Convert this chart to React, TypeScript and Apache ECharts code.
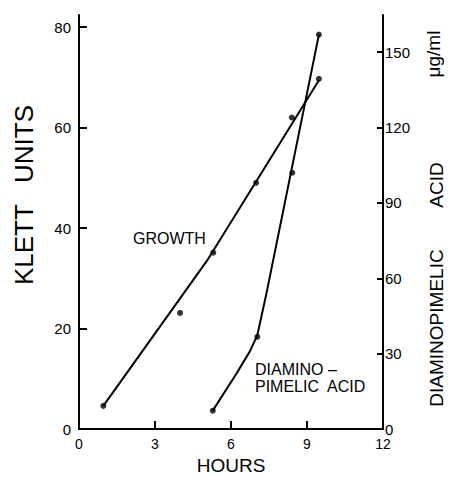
import React, { useEffect, useRef } from "react";
import * as echarts from "echarts";

// Hours (x) tick labels
const hourTicks = [0, 3, 6, 9, 12];
// Left axis (Klett units) tick labels
const klettTicks = [0, 20, 40, 60, 80];
// Right axis (µg/ml) tick labels
const dapTicks = [0, 30, 60, 90, 120, 150];

// Growth: measured points [hours, Klett units]
const growthPoints = [
  [0.96, 4.6],
  [3.99, 23.1],
  [5.3, 35.1],
  [6.99, 49.0],
  [8.4, 62.0],
  [9.47, 69.7],
];
// Growth: drawn curve [hours, Klett units]
const growthCurve = [
  [0.96, 4.6],
  [5.04, 33.4],
  [7.0, 49.3],
  [9.47, 69.4],
];

// Diaminopimelic acid: measured points [hours, µg/ml]
const dapPoints = [
  [5.28, 7.3],
  [7.04, 36.7],
  [8.42, 102],
  [9.47, 157],
];
// Diaminopimelic acid: drawn curve [hours, µg/ml]
const dapCurve = [
  [5.28, 7.3],
  [6.2, 21.8],
  [6.75, 31],
  [7.04, 37.4],
  [7.4, 54],
  [9.47, 157],
];

const FONT = "Liberation Sans, Arial, Helvetica, sans-serif";

export default function App() {
  const ref = useRef<HTMLDivElement>(null);

  useEffect(() => {
    if (!ref.current) return;
    const chart = echarts.init(ref.current, undefined, { renderer: "svg" });
    const axisLine = { show: true, lineStyle: { color: "#000", width: 2 } };
    const vText = (text: string, x: number, y: number, fontSize: number) => ({
      type: "text",
      x,
      y,
      rotation: Math.PI / 2,
      style: {
        text,
        x: 0,
        y: 0,
        align: "center",
        verticalAlign: "middle",
        fontFamily: FONT,
        fontSize,
        fill: "#000",
      },
    });
    chart.setOption({
      animation: false,
      backgroundColor: "#fff",
      grid: {
        left: 79,
        right: 66,
        top: 15,
        bottom: 48,
        containLabel: false,
        outerBoundsMode: "none",
      },
      xAxis: {
        type: "value",
        min: 0,
        max: 12,
        interval: 3,
        name: "HOURS",
        nameLocation: "middle",
        nameGap: 27,
        nameTextStyle: { fontFamily: FONT, fontSize: 19, color: "#000" },
        axisLine,
        axisTick: { show: true, inside: true, length: 8, lineStyle: { color: "#000", width: 2 } },
        axisLabel: {
          customValues: hourTicks,
          margin: 8,
          fontFamily: FONT,
          fontSize: 14,
          color: "#000",
        },
        splitLine: { show: false },
      },
      yAxis: [
        {
          type: "value",
          min: 0,
          max: 82.4,
          position: "left",
          axisLine,
          axisTick: {
            show: true,
            inside: true,
            length: 8,
            customValues: klettTicks,
            lineStyle: { color: "#000", width: 2 },
          },
          axisLabel: {
            customValues: klettTicks,
            margin: 8,
            fontFamily: FONT,
            fontSize: 15,
            color: "#000",
          },
          splitLine: { show: false },
        },
        {
          type: "value",
          min: 0,
          max: 164.8,
          position: "right",
          axisLine,
          axisTick: {
            show: true,
            inside: true,
            length: 6,
            customValues: dapTicks,
            lineStyle: { color: "#000", width: 2 },
          },
          axisLabel: {
            customValues: dapTicks,
            margin: 2,
            fontFamily: FONT,
            fontSize: 15,
            color: "#000",
          },
          splitLine: { show: false },
        },
      ],
      graphic: [
        vText("KLETT   UNITS", 24, 195, 26),
        vText("DIAMINOPIMELIC", 436, 328, 19),
        vText("ACID", 436, 185, 19),
        vText("μg/ml", 433, 54, 19),
        {
          type: "text",
          x: 133,
          y: 238,
          style: {
            text: "GROWTH",
            x: 0,
            y: 0,
            align: "left",
            verticalAlign: "middle",
            fontFamily: FONT,
            fontSize: 16,
            fill: "#000",
          },
        },
        {
          type: "text",
          x: 255,
          y: 378,
          style: {
            text: "DIAMINO –\nPIMELIC  ACID",
            x: 0,
            y: 0,
            align: "left",
            verticalAlign: "middle",
            lineHeight: 17.5,
            fontFamily: FONT,
            fontSize: 16,
            fill: "#000",
          },
        },
      ],
      series: [
        {
          type: "line",
          yAxisIndex: 0,
          data: growthCurve,
          showSymbol: false,
          smooth: false,
          lineStyle: { color: "#000", width: 2 },
          silent: true,
        },
        {
          type: "scatter",
          yAxisIndex: 0,
          data: growthPoints,
          symbolSize: 6,
          itemStyle: { color: "#000" },
        },
        {
          type: "line",
          yAxisIndex: 1,
          data: dapCurve,
          showSymbol: false,
          smooth: false,
          lineStyle: { color: "#000", width: 2 },
          silent: true,
        },
        {
          type: "scatter",
          yAxisIndex: 1,
          data: dapPoints,
          symbolSize: 6,
          itemStyle: { color: "#000" },
        },
      ],
    });
    return () => chart.dispose();
  }, []);

  return (
    <div
      ref={ref}
      style={{ position: "fixed", left: 0, top: 0, width: 449, height: 477, background: "#fff" }}
    />
  );
}
